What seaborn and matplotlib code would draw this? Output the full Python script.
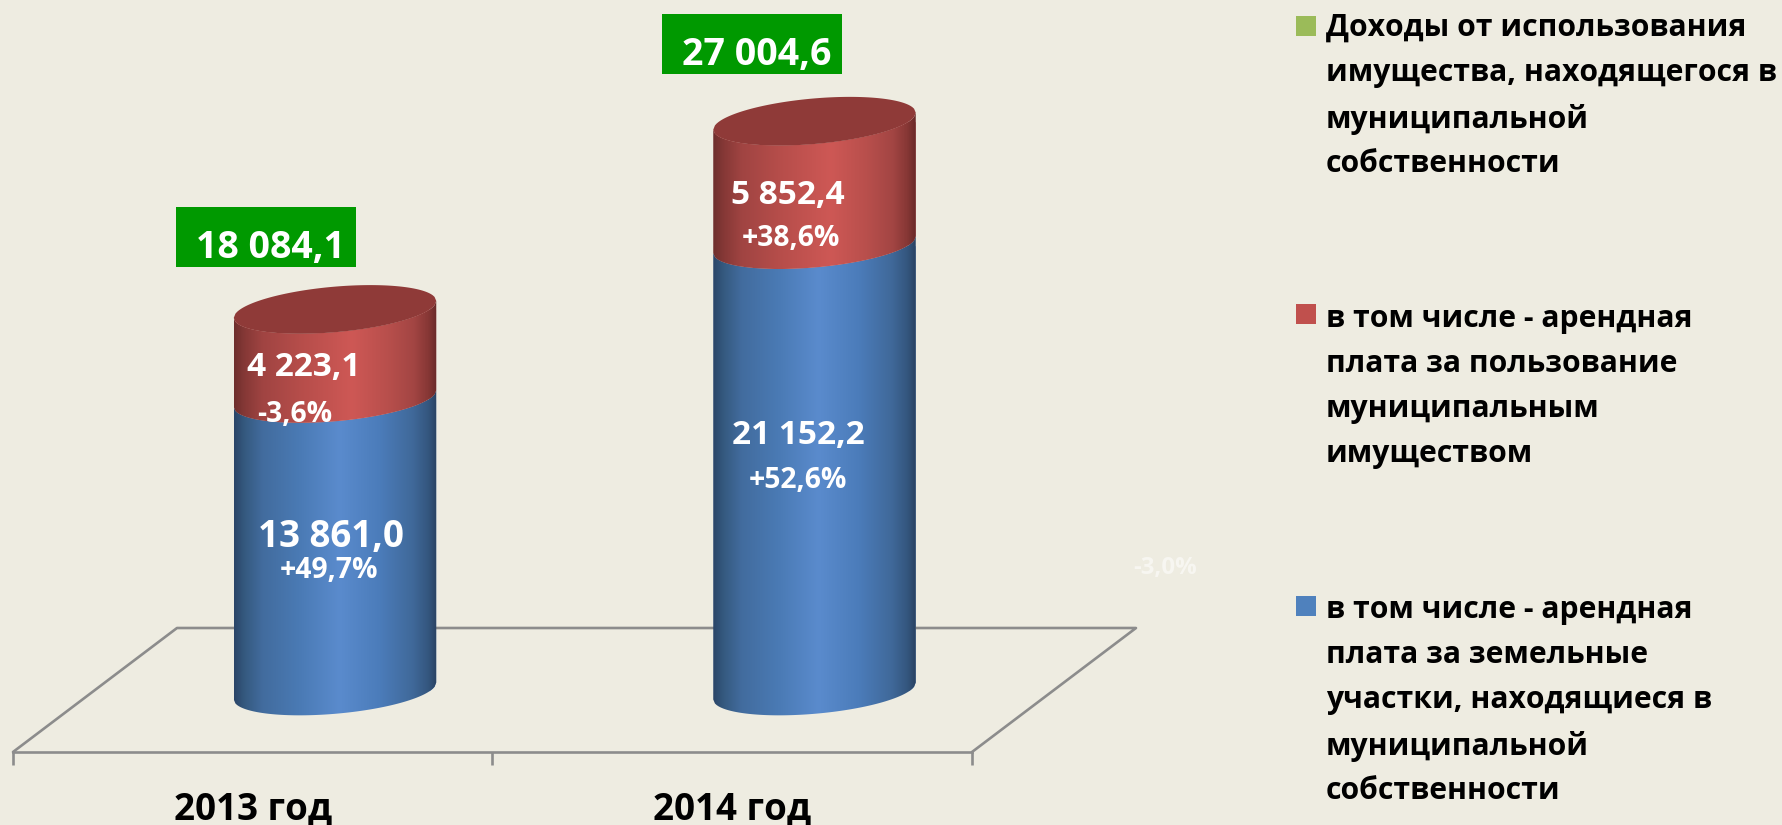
import numpy as np
import pandas as pd
import matplotlib.pyplot as plt
import seaborn as sns
from matplotlib.colors import LinearSegmentedColormap
from matplotlib.patches import Polygon, Rectangle

years = ["2013 год", "2014 год"]
land_rent = [13861.0, 21152.2]
property_rent = [4223.1, 5852.4]
totals = ["18 084,1", "27 004,6"]
land_labels = ["13 861,0", "21 152,2"]
land_pct = ["+49,7%", "+52,6%"]
property_labels = ["4 223,1", "5 852,4"]
property_pct = ["-3,6%", "+38,6%"]
hidden_pct = "-3,0%"
legend_labels = [
    "Доходы от использования\nимущества, находящегося в\nмуниципальной\nсобственности",
    "в том числе - арендная\nплата за пользование\nмуниципальным\nимуществом",
    "в том числе - арендная\nплата за земельные\nучастки, находящиеся в\nмуниципальной\nсобственности",
]

W, H = 1783, 825
BG = "#EEECE1"
FLOOR = "#8C8C8C"
FONT = "Open Sans"
PX_PER_VALUE = 0.0211
PX_PER_CAT = 479.5
FLOOR_FRONT_PX = 752
ZERO_PX = 691

sns.set_theme(style="white", rc={"axes.facecolor": "none", "figure.facecolor": BG})
plt.rcParams["font.family"] = [FONT, "DejaVu Sans"]

fig = plt.figure(figsize=(W / 100, H / 100), dpi=100)
ax = fig.add_axes([13 / W, (H - FLOOR_FRONT_PX) / H, (972 - 13) / W, FLOOR_FRONT_PX / H])

df = pd.DataFrame({"year": years, "land": land_rent, "property": property_rent})
sns.barplot(data=df, x="year", y="land", color="#4F81BD", width=202.5 / PX_PER_CAT,
            saturation=1, ax=ax)
sns.barplot(data=df, x="year", y="property", bottom=df["land"], color="#C0504D",
            width=202.5 / PX_PER_CAT, saturation=1, ax=ax)

xmin, xmax = (13 - 335) / PX_PER_CAT, (972 - 335) / PX_PER_CAT
ymin, ymax = -(FLOOR_FRONT_PX - ZERO_PX) / PX_PER_VALUE, ZERO_PX / PX_PER_VALUE
ax.set_autoscale_on(False)
ax.set_xlim(xmin, xmax)
ax.set_ylim(ymin, ymax)

# cylinder look: bars get a horizontal gradient and elliptic ends
blue_cmap = LinearSegmentedColormap.from_list("b", [
    (0, "#2A4568"), (0.05, "#35597F"), (0.14, "#426C9E"), (0.32, "#4A7AB4"),
    (0.52, "#5A8BCD"), (0.72, "#4B7CBA"), (0.88, "#40699A"), (0.96, "#34567E"), (1, "#2A4363")])
red_cmap = LinearSegmentedColormap.from_list("r", [
    (0, "#6E2E2C"), (0.05, "#853836"), (0.14, "#A04442"), (0.32, "#B54D4A"),
    (0.58, "#CE5855"), (0.76, "#B84F4C"), (0.89, "#A24543"), (0.96, "#863735"), (1, "#692A29")])

tilt = 8.5 / PX_PER_VALUE
half_h = 22.8 / PX_PER_VALUE
u = np.linspace(-1, 1, 120)
gradient = np.linspace(0, 1, 256).reshape(1, -1)


def front_arc(level):
    return level + tilt * u - half_h * np.sqrt(1 - u ** 2)


def back_arc(level):
    return level + tilt * u + half_h * np.sqrt(1 - u ** 2)


for container, cmap in zip(ax.containers, [blue_cmap, red_cmap]):
    for bar in container:
        cx = bar.get_x() + bar.get_width() / 2
        xs = cx + bar.get_width() / 2 * u
        low, high = bar.get_y(), bar.get_y() + bar.get_height()
        pts = np.r_[np.c_[xs, front_arc(low)], np.c_[xs[::-1], front_arc(high)[::-1]]]
        shape = Polygon(pts, closed=True, fc="none", ec="none", zorder=3)
        ax.add_patch(shape)
        bar.set_clip_path(shape)
        im = ax.imshow(gradient, cmap=cmap, aspect="auto", zorder=3, interpolation="bilinear",
                       extent=[xs[0], xs[-1], low - 2 * half_h, high + 2 * half_h])
        im.set_clip_path(shape)

for bar in ax.containers[1]:
    cx = bar.get_x() + bar.get_width() / 2
    xs = cx + bar.get_width() / 2 * u
    top = bar.get_y() + bar.get_height()
    pts = np.r_[np.c_[xs, front_arc(top)], np.c_[xs[::-1], back_arc(top)[::-1]]]
    ax.add_patch(Polygon(pts, closed=True, fc="#8F3A38", ec="none", zorder=4))

ax.set_xlim(xmin, xmax)
ax.set_ylim(ymin, ymax)

# floor of the 3d chart
depth = (177 - 13) / PX_PER_CAT
rear = (ZERO_PX - 628) / PX_PER_VALUE
ax.plot([xmin, xmin + depth, xmax + depth, xmax], [ymin, rear, rear, ymin], color=FLOOR,
        lw=1.9, clip_on=False, zorder=1)

for side in ["top", "left", "right"]:
    ax.spines[side].set_visible(False)
ax.spines["bottom"].set_color(FLOOR)
ax.spines["bottom"].set_linewidth(1.9)
ax.set_yticks([])
ax.set_xlabel("")
ax.set_ylabel("")
ax.set_xticks([i - depth / 2 for i in range(len(years))], years)
ax.set_xticks([xmin, (xmin + xmax) / 2, xmax], minor=True)
ax.tick_params(axis="x", which="major", length=0, pad=27.5, labelsize=26.5, labelcolor="black")
ax.tick_params(axis="x", which="minor", bottom=True, length=9.5, width=1.9, color=FLOOR)
for lab in ax.get_xticklabels():
    lab.set_fontweight("bold")


def put(x, y, s, size, color="white", ha="center", **kw):
    return fig.text(x / W, 1 - y / H, s, fontsize=size, fontweight="bold", color=color,
                    ha=ha, va="center", **kw)


# green total boxes
for x0, y0, s, tx in zip([176, 662], [207, 14], totals, [270.5, 757]):
    fig.add_artist(Rectangle((x0 / W, 1 - (y0 + 60) / H), 180 / W, 60 / H, fc="#009900", ec="none",
                             transform=fig.transFigure))
    put(tx, y0 + 41, s, 27)

for x, y, s in zip([304, 788], [367, 195], property_labels):
    put(x, y, s, 24)
for x, y, s in zip([295, 791], [415, 239], property_pct):
    put(x, y, s, 20.3)
for x, y, s, size in zip([331, 798], [537, 436], land_labels, [26.5, 24]):
    put(x, y, s, size)
for x, y, s in zip([329, 798], [571, 481], land_pct):
    put(x, y, s, 20.3)
put(1165, 568, hidden_pct, 17.3, color="#F7F6F1")

# legend
legend_colors = ["#9BBB59", "#C0504D", "#4F81BD"]
marker_centers = [26, 314, 606]
text_tops = [13, 304, 595]
for s, c, ym, yt in zip(legend_labels, legend_colors, marker_centers, text_tops):
    fig.add_artist(Rectangle((1296 / W, 1 - (ym + 10) / H), 20 / W, 20 / H, fc=c, ec="none",
                             transform=fig.transFigure))
    fig.text(1326 / W, 1 - yt / H, s, fontsize=21.7, fontweight="bold", color="black",
             ha="left", va="top", linespacing=1.65)

fig.savefig("out.png", dpi=100, facecolor=BG)
